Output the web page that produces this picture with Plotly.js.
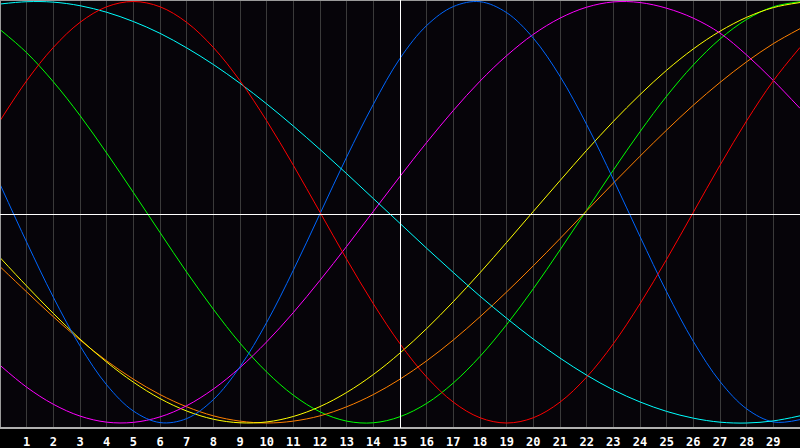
<!DOCTYPE html>
<html>
<head>
<meta charset="utf-8">
<script src="https://cdn.plot.ly/plotly-3.0.1.min.js"></script>
<style>
  html, body { margin: 0; padding: 0; background: #000; }
  #chart { width: 800px; height: 448px; }
</style>
</head>
<body>
<div id="chart"></div>
<script>
const xValues = [0,1,2,3,4,5,6,7,8,9,10,11,12,13,14,15,16,17,18,19,20,21,22,23,24,25,26,27,28,29,30];
const tickValues = [1,2,3,4,5,6,7,8,9,10,11,12,13,14,15,16,17,18,19,20,21,22,23,24,25,26,27,28,29];
const tickLabels = ["1","2","3","4","5","6","7","8","9","10","11","12","13","14","15","16","17","18","19","20","21","22","23","24","25","26","27","28","29"];

const redSeries = [0.434,0.624,0.782,0.901,0.975,1.000,0.975,0.901,0.782,0.624,0.434,0.223,0.000,-0.223,-0.434,-0.624,-0.782,-0.901,-0.975,-1.000,-0.975,-0.901,-0.782,-0.624,-0.434,-0.223,0.000,0.223,0.434,0.624,0.782];
const cyanSeries = [0.988,0.999,0.997,0.980,0.949,0.905,0.849,0.780,0.701,0.612,0.514,0.409,0.298,0.183,0.065,-0.053,-0.171,-0.286,-0.398,-0.503,-0.602,-0.692,-0.773,-0.843,-0.900,-0.945,-0.977,-0.996,-1.000,-0.990,-0.966];
const greenSeries = [0.867,0.757,0.619,0.459,0.281,0.094,-0.096,-0.284,-0.460,-0.621,-0.758,-0.868,-0.947,-0.991,-0.999,-0.970,-0.907,-0.810,-0.684,-0.533,-0.363,-0.179,0.010,0.200,0.382,0.551,0.699,0.822,0.915,0.975,0.999];
const blueSeries = [0.133,-0.142,-0.403,-0.634,-0.819,-0.943,-0.998,-0.979,-0.889,-0.733,-0.523,-0.275,-0.007,0.262,0.512,0.730,0.886,0.976,0.999,0.947,0.826,0.645,0.416,0.156,-0.115,-0.378,-0.613,-0.803,-0.933,-0.995,-0.984];
const magentaSeries = [-0.726,-0.830,-0.911,-0.967,-0.996,-0.997,-0.971,-0.918,-0.839,-0.737,-0.615,-0.476,-0.323,-0.162,0.004,0.170,0.331,0.483,0.622,0.743,0.844,0.921,0.973,0.998,0.995,0.968,0.921,0.850,0.746,0.625,0.493];
const yellowSeries = [-0.215,-0.350,-0.480,-0.602,-0.711,-0.806,-0.884,-0.943,-0.982,-0.999,-0.995,-0.969,-0.922,-0.855,-0.770,-0.668,-0.552,-0.424,-0.287,-0.143,0.004,0.150,0.294,0.431,0.558,0.674,0.775,0.859,0.925,0.971,0.995];
const orangeSeries = [-0.258,-0.378,-0.496,-0.606,-0.705,-0.792,-0.865,-0.923,-0.966,-0.991,-1.000,-0.991,-0.966,-0.923,-0.865,-0.792,-0.705,-0.606,-0.496,-0.378,-0.254,-0.125,0.007,0.138,0.266,0.390,0.508,0.616,0.714,0.800,0.871];

const seriesList = [
  {y: greenSeries,   color: '#00ff00'},
  {y: orangeSeries,  color: '#ff8000'},
  {y: yellowSeries,  color: '#ffff00'},
  {y: magentaSeries, color: '#ff00ff'},
  {y: blueSeries,    color: '#0066ff'},
  {y: cyanSeries,    color: '#00ffff'},
  {y: redSeries,     color: '#ff0000'}
];

const traces = seriesList.map(s => ({
  x: xValues,
  y: s.y,
  type: 'scatter',
  mode: 'lines',
  line: {color: s.color, width: 1, shape: 'spline', smoothing: 1},
  hoverinfo: 'skip',
  showlegend: false
}));

const layout = {
  width: 800,
  height: 448,
  margin: {l: 0, r: 0, t: 0, b: 20, pad: 0},
  paper_bgcolor: '#000000',
  plot_bgcolor: '#060409',
  showlegend: false,
  xaxis: {
    range: [0, 30],
    tickmode: 'array',
    tickvals: tickValues,
    ticktext: tickLabels,
    ticks: 'outside',
    ticklen: 3,
    tickcolor: 'rgba(0,0,0,0)',
    showgrid: true,
    gridcolor: '#3a3a3a',
    gridwidth: 1,
    zeroline: false,
    showline: false,
    tickfont: {family: 'DejaVu Sans Mono', size: 12, color: '#ffffff', weight: 'bold'},
    fixedrange: true
  },
  yaxis: {
    range: [-1.0237, 1.0071],
    showticklabels: false,
    ticks: '',
    showgrid: false,
    zeroline: false,
    showline: false,
    fixedrange: true
  },
  shapes: [
    {type: 'line', xref: 'paper', yref: 'paper', x0: 0, x1: 0, y0: 0, y1: 1, line: {color: '#9a9a9a', width: 2}, layer: 'above'},
    {type: 'line', xref: 'paper', yref: 'paper', x0: 0, x1: 1, y0: 1, y1: 1, line: {color: '#9a9a9a', width: 2}, layer: 'above'},
    {type: 'line', xref: 'paper', yref: 'paper', x0: 0, x1: 1, y0: 0, y1: 0, line: {color: '#b0b0b0', width: 2}, layer: 'above'},
    {type: 'line', xref: 'x', yref: 'paper', x0: 15.01875, x1: 15.01875, y0: 0, y1: 1, line: {color: '#ffffff', width: 1}, layer: 'above'},
    {type: 'line', xref: 'paper', yref: 'paper', x0: 0, x1: 1, y0: 0.49883, y1: 0.49883, line: {color: '#ffffff', width: 1}, layer: 'above'}
  ]
};

Plotly.newPlot('chart', traces, layout, {displayModeBar: false, staticPlot: true});
</script>
</body>
</html>
